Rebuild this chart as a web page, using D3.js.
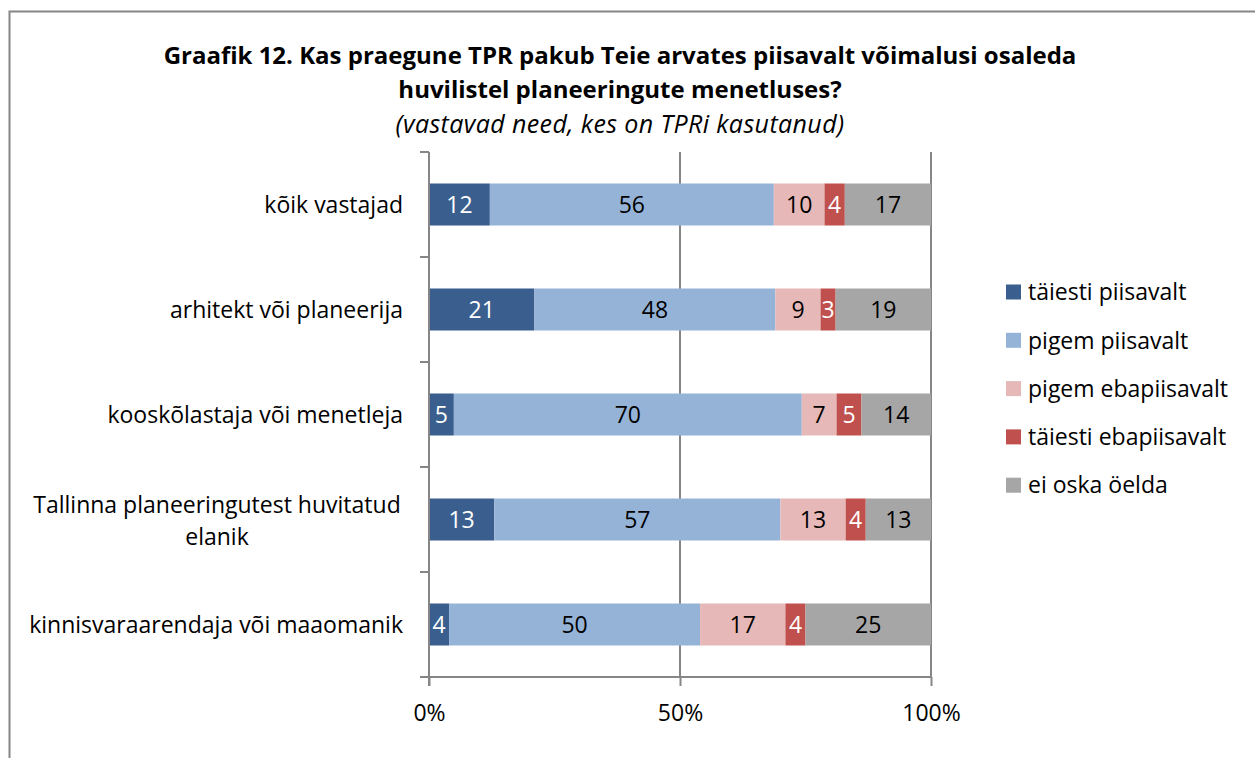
<!DOCTYPE html>
<html>
<head>
<meta charset="utf-8">
<script src="https://cdn.jsdelivr.net/npm/d3@7"></script>
<style>
body { margin: 0; background: #fff; }
svg { font-family: "Open Sans", sans-serif; }
</style>
</head>
<body>
<div id="chart"></div>
<script>
// data
var categories = ["kõik vastajad", "arhitekt või planeerija", "kooskõlastaja või menetleja",
	"Tallinna planeeringutest huvitatud elanik", "kinnisvaraarendaja või maaomanik"];
var seriesNames = ["täiesti piisavalt", "pigem piisavalt", "pigem ebapiisavalt", "täiesti ebapiisavalt", "ei oska öelda"];
var taiestiPiisavalt = [12, 21, 5, 13, 4];
var pigemPiisavalt = [56, 48, 70, 57, 50];
var pigemEbapiisavalt = [10, 9, 7, 13, 17];
var taiestiEbapiisavalt = [4, 3, 5, 4, 4];
var eiOska = [17, 19, 14, 13, 25];
var tickLabels = [0, 0.5, 1];

var colors = ["#3A5F8F", "#95B3D7", "#E6B9B8", "#C0504D", "#A6A6A6"];
var labelColors = ["#fff", "#000", "#000", "#fff", "#000"];

var FONT_SIZE = "23px";

var W = 1255, H = 758;
var margin = {top: 152, left: 429, right: 324, bottom: 81};
var width = W - margin.left - margin.right,
	height = H - margin.top - margin.bottom;

var svg = d3.select("#chart").append("svg")
	.attr("width", W)
	.attr("height", H);

// outer frame
svg.append("rect")
	.attr("x", 9.5).attr("y", 11.5)
	.attr("width", 1300).attr("height", 800)
	.attr("fill", "none")
	.attr("stroke", "#868686")
	.attr("stroke-width", 2);

// titles
svg.append("text")
	.attr("x", 620).attr("y", 64)
	.attr("text-anchor", "middle")
	.attr("font-weight", "bold")
	.style("font-size", "24px")
	.text("Graafik 12. Kas praegune TPR pakub Teie arvates piisavalt võimalusi osaleda");
svg.append("text")
	.attr("x", 620).attr("y", 98)
	.attr("text-anchor", "middle")
	.attr("font-weight", "bold")
	.style("font-size", "24px")
	.text("huvilistel planeeringute menetluses?");
svg.append("text")
	.attr("x", 620).attr("y", 133)
	.attr("text-anchor", "middle")
	.attr("font-style", "italic")
	.style("font-size", "25px")
	.style("letter-spacing", "0.4px")
	.text("(vastavad need, kes on TPRi kasutanud)");

var g = svg.append("g")
	.attr("transform", "translate(" + margin.left + "," + margin.top + ")");

// build rows and normalise to 100%
var allSeries = [taiestiPiisavalt, pigemPiisavalt, pigemEbapiisavalt, taiestiEbapiisavalt, eiOska];
var rows = categories.map(function(c, i) {
	var row = {cat: c};
	var total = 0;
	allSeries.forEach(function(s) { total += s[i]; });
	allSeries.forEach(function(s, k) { row["s" + k] = s[i] / total; row["v" + k] = s[i]; });
	return row;
});
var keys = seriesNames.map(function(d, k) { return "s" + k; });
var stacked = d3.stack().keys(keys)(rows);

var x = d3.scaleLinear().domain([0, 1]).range([0, width]);
var y = d3.scaleBand().domain(categories).range([0, height]).paddingInner(0.6).paddingOuter(0.3);
var yTicks = d3.scaleBand().domain(categories).range([0, height]);

// gridlines
g.append("g")
	.selectAll("line")
	.data(tickLabels.slice(1))
	.enter()
	.append("line")
	.attr("x1", d => x(d)).attr("x2", d => x(d))
	.attr("y1", 0).attr("y2", height)
	.attr("stroke", "#868686")
	.attr("stroke-width", 2);

// bars
var layer = g.append("g")
	.selectAll("g")
	.data(stacked)
	.enter()
	.append("g")
	.attr("fill", (d, i) => colors[i]);

layer.selectAll("rect")
	.data(d => d)
	.enter()
	.append("rect")
	.attr("x", d => x(d[0]))
	.attr("y", d => y(d.data.cat))
	.attr("width", d => x(d[1]) - x(d[0]))
	.attr("height", y.bandwidth());

stacked.forEach(function(s, k) {
	g.append("g")
		.selectAll("text")
		.data(s)
		.enter()
		.append("text")
		.attr("x", d => (x(d[0]) + x(d[1])) / 2)
		.attr("y", d => y(d.data.cat) + y.bandwidth() / 2)
		.attr("dy", "0.36em")
		.attr("text-anchor", "middle")
		.attr("fill", labelColors[k])
		.style("font-size", FONT_SIZE)
		.text(d => d.data["v" + k]);
});

// x axis
var xAxis = g.append("g")
	.attr("transform", "translate(0," + height + ")")
	.call(d3.axisBottom(x)
		.tickValues(tickLabels)
		.tickSize(9)
		.tickPadding(19)
		.tickFormat(d3.format(".0%")));
xAxis.select(".domain").attr("stroke", "#868686").attr("stroke-width", 2)
	.attr("d", "M-9,0H" + width);
xAxis.selectAll(".tick line").attr("stroke", "#868686").attr("stroke-width", 2);
xAxis.selectAll("text").style("font-size", FONT_SIZE).attr("fill", "#000")
	.attr("font-family", "'Open Sans', sans-serif");

// y axis (line + ticks between categories)
var yAxisG = g.append("g");
yAxisG.append("line")
	.attr("x1", 0).attr("x2", 0).attr("y1", 0).attr("y2", height + 9)
	.attr("stroke", "#868686").attr("stroke-width", 2);
yAxisG.selectAll("line.tick")
	.data(categories)
	.enter()
	.append("line")
	.attr("class", "tick")
	.attr("x1", -9).attr("x2", 0)
	.attr("y1", d => yTicks(d)).attr("y2", d => yTicks(d))
	.attr("stroke", "#868686").attr("stroke-width", 2);

// category labels
var catLabels = g.append("g")
	.selectAll("text")
	.data(categories)
	.enter()
	.append("text")
	.attr("y", d => y(d) + y.bandwidth() / 2)
	.style("font-size", FONT_SIZE)
	.attr("fill", "#000");
catLabels.each(function(d) {
	var t = d3.select(this);
	if (d.length > 35) {
		var parts = ["Tallinna planeeringutest huvitatud", "elanik"];
		t.attr("text-anchor", "middle");
		parts.forEach(function(p, i) {
			t.append("tspan")
				.attr("x", -212)
				.attr("dy", i == 0 ? "-0.3em" : "1.39em")
				.text(p);
		});
	} else {
		t.attr("x", -26).attr("dy", "0.36em").attr("text-anchor", "end").text(d);
	}
});

// legend
var legend = svg.append("g")
	.attr("transform", "translate(1006,292)");
var item = legend.selectAll("g")
	.data(seriesNames)
	.enter()
	.append("g")
	.attr("transform", (d, i) => "translate(0," + i * 48.3 + ")");
item.append("rect")
	.attr("x", 0).attr("y", -7.5)
	.attr("width", 15).attr("height", 15)
	.attr("fill", (d, i) => colors[i]);
item.append("text")
	.attr("x", 22).attr("dy", "0.36em")
	.style("font-size", FONT_SIZE)
	.text(d => d);
</script>
</body>
</html>
